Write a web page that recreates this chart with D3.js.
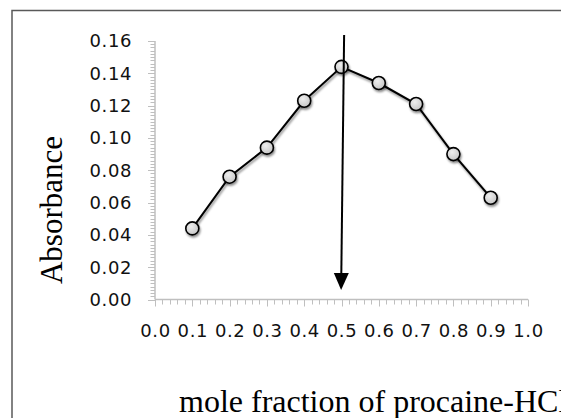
<!DOCTYPE html>
<html>
<head>
<meta charset="utf-8">
<script src="https://d3js.org/d3.v7.min.js"></script>
<style>
  body { margin: 0; background: #fff; }
  svg { display: block; }
</style>
</head>
<body>
<svg id="chart"></svg>
<script>
// 数据
const moleFraction = [0.1, 0.2, 0.3, 0.4, 0.5, 0.6, 0.7, 0.8, 0.9];
const absorbance = [0.044, 0.076, 0.094, 0.123, 0.144, 0.134, 0.121, 0.090, 0.063];
const xTickValues = [0, 0.1, 0.2, 0.3, 0.4, 0.5, 0.6, 0.7, 0.8, 0.9, 1.0];
const yTickValues = [0, 0.02, 0.04, 0.06, 0.08, 0.10, 0.12, 0.14, 0.16];
// 箭头（起点和终点，数据坐标）
const arrowFrom = [0.507, 0.1637];
const arrowTo = [0.499, 0.0059];

const width = 561, height = 418;
const svg = d3.select("#chart").attr("width", width).attr("height", height);

const x = d3.scaleLinear().domain([0, 1]).range([155, 528]);
const y = d3.scaleLinear().domain([0, 0.16]).range([299.5, 41]);

// 阴影
const defs = svg.append("defs");
const shadow = defs.append("filter").attr("id", "shadow")
  .attr("x", "-50%").attr("y", "-50%").attr("width", "200%").attr("height", "200%");
shadow.append("feDropShadow").attr("dx", 1).attr("dy", 2).attr("stdDeviation", 1.2)
  .attr("flood-color", "#000").attr("flood-opacity", 0.45);
const grad = defs.append("radialGradient").attr("id", "dotFill")
  .attr("cx", "40%").attr("cy", "35%").attr("r", "70%");
grad.append("stop").attr("offset", "0%").attr("stop-color", "#eeeeee");
grad.append("stop").attr("offset", "100%").attr("stop-color", "#c4c4c4");

// 外框
svg.append("path")
  .attr("d", `M12,${height} L12,10.5 L${width},10.5`)
  .attr("fill", "none").attr("stroke", "#595959").attr("stroke-width", 1.5);

const axisColor = "#bfbfbf";

// y 轴
const yMinor = d3.range(0, 0.1601, 0.002);
svg.append("g").selectAll("line").data(yMinor).enter().append("line")
  .attr("x1", d => Math.abs(Math.round(d / 0.02) * 0.02 - d) < 1e-6 ? 148 : 150.5)
  .attr("x2", x(0))
  .attr("y1", d => Math.round(y(d)) + 0.5).attr("y2", d => Math.round(y(d)) + 0.5)
  .attr("stroke", axisColor).attr("stroke-width", 1);
svg.append("line").attr("x1", x(0)).attr("x2", x(0)).attr("y1", y(0.16)).attr("y2", y(0))
  .attr("stroke", axisColor).attr("stroke-width", 1.5);

svg.append("g").selectAll("text").data(yTickValues).enter().append("text")
  .attr("x", 132).attr("y", d => y(d))
  .attr("dy", "0.36em")
  .attr("text-anchor", "end")
  .attr("font-family", "DejaVu Sans").attr("font-size", 18)
  .attr("letter-spacing", 0.6)
  .attr("fill", "#111")
  .text(d => d.toFixed(2));

// x 轴
const xMinor = d3.range(0, 1.0001, 0.02);
svg.append("g").selectAll("line").data(xMinor).enter().append("line")
  .attr("x1", d => Math.round(x(d)) + 0.5).attr("x2", d => Math.round(x(d)) + 0.5)
  .attr("y1", y(0))
  .attr("y2", d => Math.abs(Math.round(d / 0.1) * 0.1 - d) < 1e-6 ? y(0) + 7 : y(0) + 5)
  .attr("stroke", axisColor).attr("stroke-width", 1);
svg.append("line").attr("x1", x(0)).attr("x2", x(1)).attr("y1", y(0)).attr("y2", y(0))
  .attr("stroke", axisColor).attr("stroke-width", 1.5);

svg.append("g").selectAll("text").data(xTickValues).enter().append("text")
  .attr("x", d => x(d) + 0.5).attr("y", 337)
  .attr("text-anchor", "middle")
  .attr("font-family", "DejaVu Sans").attr("font-size", 18)
  .attr("letter-spacing", 0.6)
  .attr("fill", "#111")
  .text(d => d.toFixed(1));

// 轴标题
svg.append("text")
  .attr("transform", "translate(62,210) rotate(-90)")
  .attr("text-anchor", "middle")
  .attr("font-family", "Liberation Serif").attr("font-size", 31)
  .text("Absorbance");

svg.append("text")
  .attr("x", 179).attr("y", 412)
  .attr("font-family", "Liberation Serif").attr("font-size", 32)
  .text("mole fraction of procaine-HCl");

// 折线
const line = d3.line().x((d, i) => x(moleFraction[i])).y(d => y(d));
svg.append("path").datum(absorbance)
  .attr("d", line).attr("fill", "none")
  .attr("stroke", "#000").attr("stroke-width", 2)
  .attr("filter", "url(#shadow)");

svg.append("g").selectAll("circle").data(absorbance).enter().append("circle")
  .attr("cx", (d, i) => x(moleFraction[i])).attr("cy", d => y(d))
  .attr("r", 6.5)
  .attr("fill", "url(#dotFill)")
  .attr("stroke", "#000").attr("stroke-width", 1.6)
  .attr("filter", "url(#shadow)");

// 箭头
const ax1 = x(arrowFrom[0]), ay1 = y(arrowFrom[1]);
const ax2 = x(arrowTo[0]), ay2 = y(arrowTo[1]);
const headLen = 17, headW = 7.5;
const ang = Math.atan2(ay2 - ay1, ax2 - ax1);
const bx = ax2 - headLen * Math.cos(ang), by = ay2 - headLen * Math.sin(ang);
svg.append("line")
  .attr("x1", ax1).attr("y1", ay1).attr("x2", bx).attr("y2", by)
  .attr("stroke", "#000").attr("stroke-width", 2);
svg.append("path")
  .attr("d", `M${ax2},${ay2} L${bx + headW * Math.sin(ang)},${by - headW * Math.cos(ang)} L${bx - headW * Math.sin(ang)},${by + headW * Math.cos(ang)} Z`)
  .attr("fill", "#000");
</script>
</body>
</html>
